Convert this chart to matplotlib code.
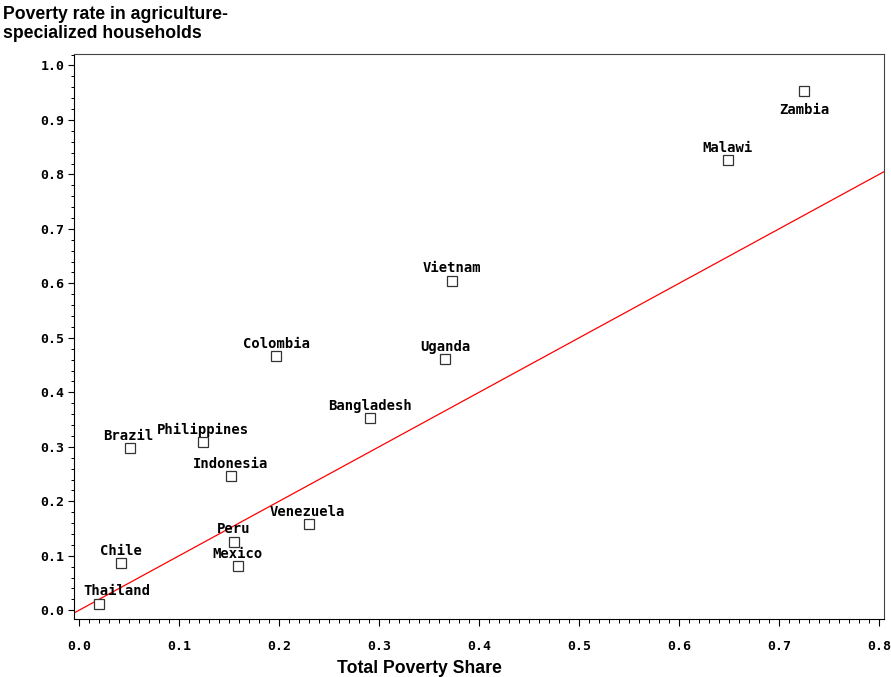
import matplotlib
matplotlib.use("Agg")
import matplotlib.pyplot as plt
from matplotlib.ticker import MultipleLocator, FormatStrFormatter

# ---- data ----
countries = ['Zambia', 'Malawi', 'Vietnam', 'Uganda', 'Colombia', 'Bangladesh',
             'Philippines', 'Brazil', 'Indonesia', 'Venezuela', 'Peru', 'Mexico',
             'Chile', 'Thailand']
total_poverty_share = [0.725, 0.649, 0.373, 0.366, 0.197, 0.291, 0.124, 0.051,
                       0.152, 0.230, 0.155, 0.159, 0.042, 0.020]
ag_poverty_rate = [0.953, 0.826, 0.605, 0.461, 0.467, 0.352, 0.309, 0.298,
                   0.246, 0.158, 0.126, 0.081, 0.087, 0.012]

line_intercept = 0.0
line_slope = 1.0

x_ticks = [0.0, 0.1, 0.2, 0.3, 0.4, 0.5, 0.6, 0.7, 0.8]
y_ticks = [0.0, 0.1, 0.2, 0.3, 0.4, 0.5, 0.6, 0.7, 0.8, 0.9, 1.0]

x_title = 'Total Poverty Share'
y_title = 'Poverty rate in agriculture-\nspecialized households'

# label placement (layout only, in points)
label_below = {'Zambia'}
label_dx = {'Thailand': 13, 'Brazil': -1.5, 'Venezuela': -1.5}

# ---- figure ----
W, H = 891, 677
fig = plt.figure(figsize=(W / 100, H / 100), dpi=100)
ax = fig.add_axes([74 / W, (H - 619) / H, (884 - 74) / W, (619 - 54) / H])

xlim = (-0.005, 0.805)
ylim = (-0.016, 1.021)
ax.set_xlim(*xlim)
ax.set_ylim(*ylim)

# reference line
ax.plot(list(xlim), [line_intercept + line_slope * v for v in xlim],
        color='#ff0000', lw=0.9, zorder=2)

# points
ax.plot(total_poverty_share, ag_poverty_rate, linestyle='none', marker='s',
        markersize=7, markerfacecolor='white', markeredgecolor='#333333',
        markeredgewidth=0.9, zorder=3)

mono = 'DejaVu Sans Mono'
for name, xv, yv in zip(countries, total_poverty_share, ag_poverty_rate):
    dx = label_dx.get(name, 0)
    dy = -16.5 if name in label_below else 6
    ax.annotate(name, (xv, yv), xytext=(dx, dy), textcoords='offset points',
                ha='center', va='baseline', fontsize=10, family=mono,
                fontweight='semibold', color='black')

# ticks
ax.set_xticks(x_ticks)
ax.set_yticks(y_ticks)
ax.xaxis.set_minor_locator(MultipleLocator(0.01))
ax.yaxis.set_minor_locator(MultipleLocator(0.02))
ax.xaxis.set_major_formatter(FormatStrFormatter('%.1f'))
ax.yaxis.set_major_formatter(FormatStrFormatter('%.1f'))
ax.tick_params(axis='x', which='major', direction='out', length=5, width=0.8, pad=10)
ax.tick_params(axis='x', which='minor', direction='out', length=3, width=0.7)
ax.tick_params(axis='y', which='major', direction='out', length=4, width=0.8, pad=3)
ax.tick_params(axis='y', which='minor', direction='out', length=2.5, width=0.7)
for lab in ax.get_xticklabels() + ax.get_yticklabels():
    lab.set_family(mono)
    lab.set_fontweight('bold')
    lab.set_fontsize(9.5)

for s in ax.spines.values():
    s.set_linewidth(0.8)
    s.set_color('black')
ax.spines['top'].set_color('#444444')
ax.spines['right'].set_color('#444444')

# titles
fig.text(337 / W, (H - 673) / H, x_title, ha='left', va='baseline',
         fontsize=12.7, fontweight='bold', family='Liberation Sans', color='black')
fig.text(3 / W, (H - 6) / H, y_title, ha='left', va='top', linespacing=1.12,
         fontsize=12.7, fontweight='bold', family='Liberation Sans', color='black')

fig.savefig('out.png', dpi=100)
